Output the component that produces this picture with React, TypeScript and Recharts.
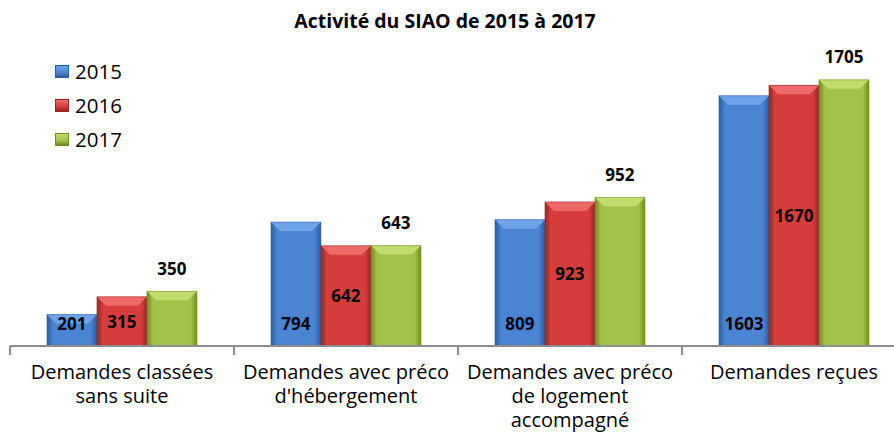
import { BarChart, Bar, XAxis, YAxis, LabelList } from "recharts";

// ── Data ──────────────────────────────────────────────────────────────────────
const categories = [
  "Demandes classées\nsans suite",
  "Demandes avec préco\nd'hébergement",
  "Demandes avec préco\nde logement\naccompagné",
  "Demandes reçues",
];
const values2015 = [201, 794, 809, 1603];
const values2016 = [315, 642, 923, 1670];
const values2017 = [350, 643, 952, 1705];
const seriesNames = ["2015", "2016", "2017"];

const data = categories.map((name, i) => ({
  name,
  y2015: values2015[i],
  y2016: values2016[i],
  y2017: values2017[i],
}));

// ── Layout ────────────────────────────────────────────────────────────────────
const CHART_W = 920;
const CHART_H = 446;
const MARGIN = { top: 65, right: 14, left: 10, bottom: 0 };
const BAND = (CHART_W - MARGIN.left - MARGIN.right) / categories.length;
const FONT = "'Open Sans', sans-serif";

const palette = [
  { base: "#4a84d2", light: "#6ea3ea", dark: "#2c5c9c" },
  { base: "#d63d3c", light: "#ee6a68", dark: "#9a2524" },
  { base: "#a2c347", light: "#c0dc6a", dark: "#6e8a2a" },
];

// ── Bevelled bar ─────────────────────────────────────────────────────────────
function bevelShape(idx: number) {
  return (props: any) => {
    const { x, y, width, height } = props;
    const c = palette[idx];
    const b = Math.min(9, height / 2);
    return (
      <g>
        <rect x={x} y={y} width={width} height={height} fill={`url(#barGrad${idx})`} />
        <polygon
          points={`${x},${y} ${x + width},${y} ${x + width - b},${y + b} ${x + b},${y + b}`}
          fill={c.light}
        />
        <rect x={x} y={y} width={width} height={height} fill="none" stroke={c.dark} strokeOpacity={0.5} strokeWidth={1} />
      </g>
    );
  };
}

// ── Labels ────────────────────────────────────────────────────────────────────
function makeLabel(mode: "bottom" | "center" | "top") {
  return (props: any) => {
    const { x, y, width, height, value } = props;
    let cy = y + height / 2;
    if (mode === "bottom") cy = y + height - 23;
    if (mode === "top") cy = y - 23;
    return (
      <text
        x={x + width / 2}
        y={cy}
        textAnchor="middle"
        dominantBaseline="central"
        fontFamily={FONT}
        fontWeight={700}
        fontSize={17}
        fill="#000"
      >
        {value}
      </text>
    );
  };
}

// ── Category tick with boundary tick marks ───────────────────────────────────
function CategoryTick(props: any) {
  const { x, y, payload, index } = props;
  const lines = String(payload.value).split("\n");
  const half = BAND / 2;
  return (
    <g>
      <line x1={x - half} y1={y - 8} x2={x - half} y2={y + 1} stroke="#8c8c8c" strokeWidth={2} />
      {index === categories.length - 1 && (
        <line x1={x + half} y1={y - 8} x2={x + half} y2={y + 1} stroke="#8c8c8c" strokeWidth={2} />
      )}
      <text x={x} y={y + 25} textAnchor="middle" fontFamily={FONT} fontSize={20} fill="#000">
        {lines.map((l, i) => (
          <tspan key={i} x={x} dy={i === 0 ? 0 : 24}>
            {l}
          </tspan>
        ))}
      </text>
    </g>
  );
}

// ── Legend ────────────────────────────────────────────────────────────────────
function CustomLegend() {
  return (
    <div style={{ position: "absolute", top: 54, left: 55, fontFamily: FONT, fontSize: 20.5, color: "#000", zIndex: 2 }}>
      {seriesNames.map((s, i) => (
        <div key={s} style={{ display: "flex", alignItems: "center", height: 34 }}>
          <span
            style={{
              width: 14,
              height: 13,
              marginRight: 6,
              background: `linear-gradient(180deg, ${palette[i].light}, ${palette[i].base} 60%, ${palette[i].dark})`,
              border: `1px solid ${palette[i].dark}`,
              boxSizing: "border-box",
            }}
          />
          {s}
        </div>
      ))}
    </div>
  );
}

export default function App() {
  return (
    <div style={{ position: "absolute", left: 0, top: 0, width: 894, height: 446, overflow: "hidden", background: "#fff" }}>
      <div
        style={{
          position: "absolute",
          top: 7,
          left: 0,
          width: 890,
          textAlign: "center",
          fontFamily: FONT,
          fontWeight: 700,
          fontSize: 19.5,
          zIndex: 2,
        }}
      >
        Activité du SIAO de 2015 à 2017
      </div>
      <CustomLegend />
      <BarChart
        width={CHART_W}
        height={CHART_H}
        data={data}
        margin={MARGIN}
        barCategoryGap="16.5%"
        barGap={0}
      >
        <defs>
          {palette.map((c, i) => (
            <linearGradient key={i} id={`barGrad${i}`} x1="0" y1="0" x2="1" y2="0">
              <stop offset="0%" stopColor={c.dark} />
              <stop offset="12%" stopColor={c.base} />
              <stop offset="50%" stopColor={c.base} />
              <stop offset="88%" stopColor={c.base} />
              <stop offset="100%" stopColor={c.dark} />
            </linearGradient>
          ))}
        </defs>
        <XAxis
          dataKey="name"
          interval={0}
          height={100}
          axisLine={{ stroke: "#8c8c8c", strokeWidth: 2 }}
          tickLine={false}
          tick={<CategoryTick />}
        />
        <YAxis hide width={0} domain={[0, 1800]} />
        <Bar dataKey="y2015" name="2015" shape={bevelShape(0)} isAnimationActive={false}>
          <LabelList dataKey="y2015" content={makeLabel("bottom")} />
        </Bar>
        <Bar dataKey="y2016" name="2016" shape={bevelShape(1)} isAnimationActive={false}>
          <LabelList dataKey="y2016" content={makeLabel("center")} />
        </Bar>
        <Bar dataKey="y2017" name="2017" shape={bevelShape(2)} isAnimationActive={false}>
          <LabelList dataKey="y2017" content={makeLabel("top")} />
        </Bar>
      </BarChart>
    </div>
  );
}
